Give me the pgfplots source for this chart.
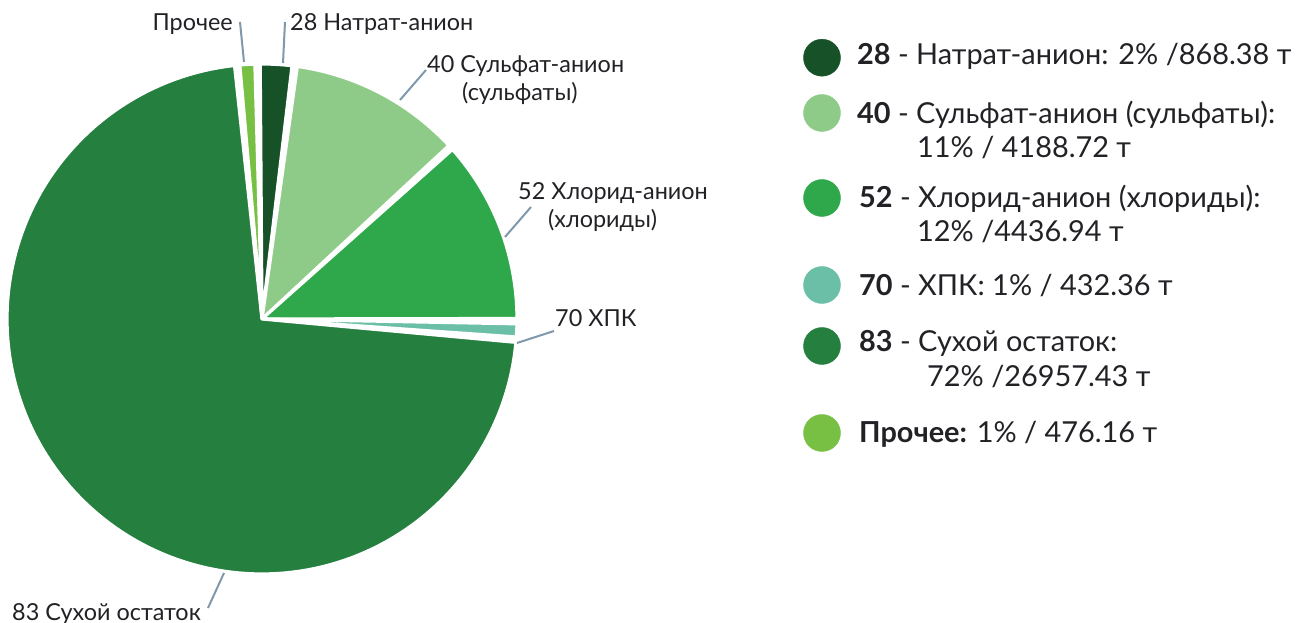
\documentclass[border=0pt]{standalone}
\usepackage{fontspec}
\setmainfont{Lato}
\usepackage{pgfplots}
\pgfplotsset{compat=1.18}
\definecolor{cNat}{RGB}{22,81,40}
\definecolor{cSul}{RGB}{143,203,136}
\definecolor{cChl}{RGB}{46,168,74}
\definecolor{cHpk}{RGB}{107,191,166}
\definecolor{cDry}{RGB}{37,128,64}
\definecolor{cOth}{RGB}{119,192,67}
\definecolor{lead}{RGB}{127,152,171}
\definecolor{txt}{RGB}{34,34,38}
% values (t)
\def\vA{868.38}\def\vB{4188.72}\def\vC{4436.94}\def\vD{432.36}\def\vE{26957.43}\def\vF{476.16}
\edef\tot{\fpeval{\vA+\vB+\vC+\vD+\vE+\vF}}
\def\st{91}\def\pad{0.6}
\edef\pA{\fpeval{\st}}
\edef\pB{\fpeval{\st-360*(\vA)/\tot}}
\edef\pC{\fpeval{\st-360*(\vA+\vB)/\tot}}
\edef\pD{\fpeval{\st-360*(\vA+\vB+\vC)/\tot}}
\edef\pE{\fpeval{\st-360*(\vA+\vB+\vC+\vD)/\tot}}
\edef\pF{\fpeval{\st-360*(\vA+\vB+\vC+\vD+\vE)/\tot}}
\edef\pG{\fpeval{\st-360}}
\newcommand\slice[3]{% lo hi colour
  \edef\lo{\fpeval{#1+\pad}}\edef\hi{\fpeval{#2-\pad}}%
  \edef\tmp{\noexpand\addplot[fill=#3, draw=white, line width=3.2bp, line join=round, domain=\lo:\hi, samples=150, variable=\noexpand\t]}%
  \tmp ({262+255*cos(\t)},{304+255*sin(\t)}) -- (axis cs:262,304) -- cycle;%
}
\begin{document}
\begin{tikzpicture}
\useasboundingbox (0,0) rectangle (1298bp,623bp);
\begin{axis}[at={(0,0)}, anchor=south west, width=1298bp, height=623bp, scale only axis,
  xmin=0, xmax=1298, ymin=0, ymax=623, hide axis, clip=false]
\slice{\pB}{\pA}{cNat}
\slice{\pC}{\pB}{cSul}
\slice{\pD}{\pC}{cChl}
\slice{\pE}{\pD}{cHpk}
\slice{\pF}{\pE}{cDry}
\slice{\pG}{\pF}{cOth}
% leader lines
\addplot[lead, line width=2bp] coordinates {(240,601) (244,561)};
\addplot[lead, line width=2bp] coordinates {(285,601) (283,560)};
\addplot[lead, line width=2bp] coordinates {(426,553) (400,523)};
\addplot[lead, line width=2bp] coordinates {(531,416) (505,386)};
\addplot[lead, line width=2bp] coordinates {(554,292) (517,280)};
\addplot[lead, line width=2bp] coordinates {(208,15) (224,50)};
% pie labels
\begin{scope}[every node/.style={text=txt, font=\fontsize{23.5}{28}\selectfont, inner sep=0pt}]
\node[anchor=base east] at (axis cs:233,592) {Прочее};
\node[anchor=base west] at (axis cs:290,592) {28 Натрат-анион};
\node[anchor=base west] at (axis cs:427,550) {40 Сульфат-анион};
\node[anchor=base west] at (axis cs:462,522) {(сульфаты)};
\node[anchor=base west] at (axis cs:518,423) {52 Хлорид-анион};
\node[anchor=base west] at (axis cs:548,395) {(хлориды)};
\node[anchor=base west] at (axis cs:555,296) {70 ХПК};
\node[anchor=base west] at (axis cs:12,3) {83 Сухой остаток};
\end{scope}
% legend markers
\addplot[only marks, mark=*, mark size=18.5bp, cNat] coordinates {(822,565.3)};
\addplot[only marks, mark=*, mark size=18.5bp, cSul] coordinates {(822,510)};
\addplot[only marks, mark=*, mark size=18.5bp, cChl] coordinates {(822,425)};
\addplot[only marks, mark=*, mark size=18.5bp, cHpk] coordinates {(822,338)};
\addplot[only marks, mark=*, mark size=18.5bp, cDry] coordinates {(822,277)};
\addplot[only marks, mark=*, mark size=18.5bp, cOth] coordinates {(822,190)};
\begin{scope}[every node/.style={text=txt, font=\fontsize{29}{35}\selectfont, inner sep=0pt, anchor=base west}]
\node at (axis cs:857,558.5) {\textbf{28} - Натрат-анион: 2\% /868.38 т};
\node at (axis cs:857,499) {\textbf{40} - Сульфат-анион (сульфаты):};
\node at (axis cs:917,465) {11\% / 4188.72 т};
\node at (axis cs:859,415) {\textbf{52} - Хлорид-анион (хлориды):};
\node at (axis cs:917,381) {12\% /4436.94 т};
\node at (axis cs:859,327) {\textbf{70} - ХПК: 1\% / 432.36 т};
\node at (axis cs:859,271) {\textbf{83} - Сухой остаток:};
\node at (axis cs:927,236) {72\% /26957.43 т};
\node at (axis cs:859,180) {\textbf{Прочее:} 1\% / 476.16 т};
\end{scope}
\end{axis}
\end{tikzpicture}
\end{document}
